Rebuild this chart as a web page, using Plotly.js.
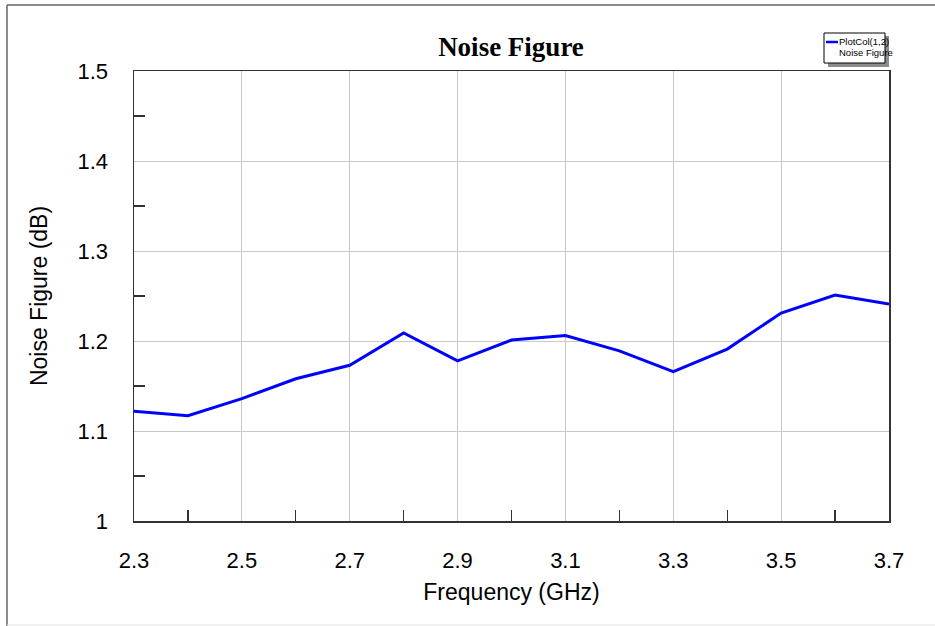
<!DOCTYPE html>
<html>
<head>
<meta charset="utf-8">
<script src="https://cdn.plot.ly/plotly-3.0.1.min.js"></script>
<style>html,body{margin:0;padding:0;background:#fff;}#chart{width:935px;height:626px;}</style>
</head>
<body>
<div id="chart"></div>
<script>
const frequency = [2.3, 2.4, 2.5, 2.6, 2.7, 2.8, 2.9, 3.0, 3.1, 3.2, 3.3, 3.4, 3.5, 3.6, 3.7];
const noiseFigure = [1.122, 1.117, 1.136, 1.158, 1.173, 1.209, 1.178, 1.201, 1.206, 1.189, 1.166, 1.191, 1.231, 1.251, 1.241];
const xTicks = [2.3, 2.5, 2.7, 2.9, 3.1, 3.3, 3.5, 3.7];
const yTicks = [1, 1.1, 1.2, 1.3, 1.4, 1.5];
const legendLines = ["PlotCol(1,2)", "Noise Figure"];

const W = 935, H = 626, L = 134, R = 889, T = 71, B = 521;
const px = x => (x - L) / (R - L);
const py = y => (B - y) / (B - T);

const trace = {
  x: frequency, y: noiseFigure, type: 'scatter', mode: 'lines',
  line: {color: '#0000ff', width: 3}, hoverinfo: 'skip', showlegend: false
};

const shapes = [
  // outer frame
  {type:'line', xref:'paper', yref:'paper', x0:px(7), x1:px(936), y0:py(5), y1:py(5), line:{color:'#666', width:1.5}},
  {type:'line', xref:'paper', yref:'paper', x0:px(7), x1:px(7), y0:py(5), y1:py(627), line:{color:'#666', width:1.5}},
  {type:'line', xref:'paper', yref:'paper', x0:px(7), x1:px(936), y0:py(625), y1:py(625), line:{color:'#e4e4e4', width:1}},
  // legend shadow
  {type:'rect', xref:'paper', yref:'paper', x0:px(828), x1:px(889), y0:py(36), y1:py(67), fillcolor:'#8c8c8c', line:{width:0}},
  // legend box
  {type:'rect', xref:'paper', yref:'paper', x0:px(824), x1:px(885), y0:py(33), y1:py(63), fillcolor:'#ffffff', line:{color:'#000', width:1}},
  // legend sample
  {type:'line', xref:'paper', yref:'paper', x0:px(826), x1:px(838), y0:py(42), y1:py(42), line:{color:'#0000ff', width:2.5}}
];

const annotations = [
  {xref:'paper', yref:'paper', x:px(837), y:py(42), xanchor:'left', yanchor:'middle', showarrow:false,
   text:legendLines[0], font:{family:'Liberation Sans, Arial', size:9.5, color:'#000'}},
  {xref:'paper', yref:'paper', x:px(837), y:py(53), xanchor:'left', yanchor:'middle', showarrow:false,
   text:legendLines[1], font:{family:'Liberation Sans, Arial', size:9.5, color:'#000'}}
];

const layout = {
  width: W, height: H,
  margin: {l: L, r: W - R, t: T, b: H - B, pad: 0},
  paper_bgcolor: '#fff', plot_bgcolor: '#fff',
  font: {family: 'Liberation Sans, Arial', color: '#000'},
  title: {text: '<b>Noise Figure</b>', x: px(511), xref: 'paper', xanchor: 'center',
          y: 1 - 47 / H, yref: 'container', yanchor: 'middle',
          font: {family: 'Liberation Serif, Times New Roman', size: 27, color: '#000'}},
  xaxis: {
    range: [2.3, 3.7], tickvals: xTicks, ticktext: xTicks.map(v => v.toFixed(1)),
    ticks: '', showgrid: true, gridcolor: '#c8c8c8', gridwidth: 1,
    showline: true, linecolor: '#333', linewidth: 1.5, mirror: true, zeroline: false,
    tickfont: {size: 22}, ticklabelstandoff: 19,
    minor: {dtick: 0.2, tick0: 2.4, ticks: 'inside', ticklen: 11, tickcolor: '#333', tickwidth: 1.3, showgrid: false},
    title: {text: 'Frequency (GHz)', font: {size: 23}, standoff: 12}
  },
  yaxis: {
    range: [1, 1.5], tickvals: yTicks, ticktext: yTicks.map(v => v === 1 ? '1' : v.toFixed(1)),
    ticks: '', showgrid: true, gridcolor: '#c8c8c8', gridwidth: 1,
    showline: true, linecolor: '#333', linewidth: 1.5, mirror: true, zeroline: false,
    tickfont: {size: 22}, ticklabelstandoff: 20,
    minor: {dtick: 0.1, tick0: 1.05, ticks: 'inside', ticklen: 11, tickcolor: '#333', tickwidth: 1.3, showgrid: false},
    title: {text: 'Noise Figure (dB)', font: {size: 23}, standoff: 23}
  },
  shapes: shapes,
  annotations: annotations
};

Plotly.newPlot('chart', [trace], layout, {staticPlot: true, displayModeBar: false});
</script>
</body>
</html>
